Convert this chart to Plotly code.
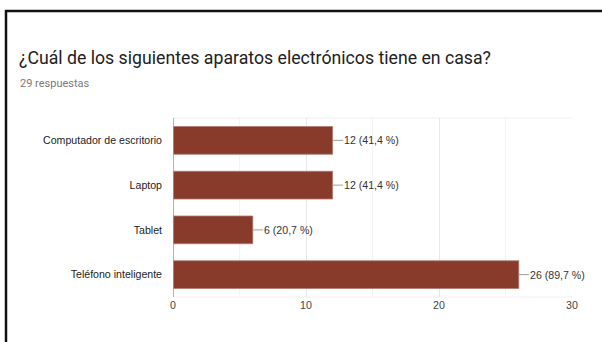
import plotly.graph_objects as go

categories = ["Computador de escritorio", "Laptop", "Tablet", "Teléfono inteligente"]
counts = [12, 12, 6, 26]
percent_labels = ["41,4 %", "41,4 %", "20,7 %", "89,7 %"]
x_ticks = [0, 10, 20, 30]
title_text = "¿Cuál de los siguientes aparatos electrónicos tiene en casa?"
subtitle_text = "29 respuestas"

W, H = 602, 342
L, R, T, B = 173, 30, 118, 45
pw, ph = W - L - R, H - T - B

def px_x(p):
    return (p - L) / pw

def px_y(p):
    return (H - B - p) / ph

bar_color = "#883a2b"
small = 10.6

fig = go.Figure(go.Bar(
    x=counts, y=categories, orientation="h",
    marker=dict(color=bar_color, line=dict(color="#b07a6e", width=0.8)),
    width=0.62, hoverinfo="skip",
))

shapes = []
annotations = []
for c, v, p in zip(categories, counts, percent_labels):
    shapes.append(dict(type="line", xref="x", yref="y", x0=v, x1=v + 0.78, y0=c, y1=c,
                       line=dict(color="#9e9e9e", width=1)))
    annotations.append(dict(xref="x", yref="y", x=v + 0.78, y=c, text=f"{v} ({p})",
                            showarrow=False, xanchor="left", yanchor="middle", xshift=-1,
                            font=dict(family="Liberation Sans, Arial", size=small, color="#333333")))

# minor gridlines
for m in [5, 15, 25]:
    shapes.append(dict(type="line", xref="x", yref="paper", x0=m, x1=m, y0=0, y1=1,
                       line=dict(color="#f3f3f3", width=1), layer="below"))
# faint top/bottom frame
for yy in [0, 1]:
    shapes.append(dict(type="line", xref="paper", yref="paper", x0=0, x1=1, y0=yy, y1=yy,
                       line=dict(color="#f0f0f0", width=1), layer="below"))
# baseline
shapes.append(dict(type="line", xref="x", yref="paper", x0=0, x1=0, y0=0, y1=1,
                   line=dict(color="#9a9a9a", width=1.5)))
# black frame (top and left)
shapes.append(dict(type="line", xref="paper", yref="paper",
                   x0=px_x(5), x1=px_x(610), y0=px_y(11), y1=px_y(11),
                   line=dict(color="#111111", width=2.5)))
shapes.append(dict(type="line", xref="paper", yref="paper",
                   x0=px_x(6), x1=px_x(6), y0=px_y(10), y1=px_y(350),
                   line=dict(color="#111111", width=2.5)))

annotations.append(dict(xref="paper", yref="paper", x=px_x(17), y=px_y(58), text=title_text,
                        showarrow=False, xanchor="left", yanchor="middle",
                        font=dict(family="Roboto", size=17.7, color="#212121")))
annotations.append(dict(xref="paper", yref="paper", x=px_x(18), y=px_y(83), text=subtitle_text,
                        showarrow=False, xanchor="left", yanchor="middle",
                        font=dict(family="Roboto", size=11, color="#7a7a7a")))

fig.update_layout(
    width=W, height=H,
    margin=dict(l=L, r=R, t=T, b=B, pad=0),
    paper_bgcolor="white", plot_bgcolor="white",
    showlegend=False,
    shapes=shapes, annotations=annotations,
    xaxis=dict(range=[0, 30], tickvals=x_ticks, showgrid=True, gridcolor="#e8e8e8",
               zeroline=False, showline=False, ticks="", fixedrange=True,
               tickfont=dict(family="Liberation Sans, Arial", size=small, color="#444444")),
    yaxis=dict(autorange="reversed", showgrid=False, zeroline=False, ticks="",
               ticklabelstandoff=10,
               tickfont=dict(family="Liberation Sans, Arial", size=small, color="#222222")),
)

fig.write_html("out.html")
